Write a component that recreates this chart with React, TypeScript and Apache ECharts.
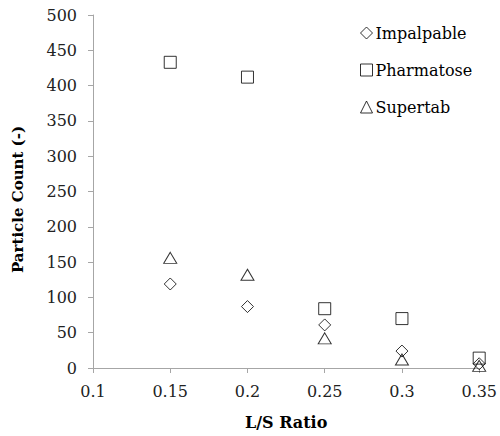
import React, { useEffect, useRef } from "react";
import * as echarts from "echarts";

const xValues = [0.15, 0.2, 0.25, 0.3, 0.35];
const impalpable = [119, 87, 61, 24, 6];
const pharmatose = [433, 412, 84, 70, 14];
const supertab = [156, 132, 42, 12, 3];

const font = "DejaVu Serif";

export default function App() {
  const ref = useRef<HTMLDivElement>(null);
  useEffect(() => {
    if (!ref.current) return;
    const chart = echarts.init(ref.current, undefined, { renderer: "svg" });
    const mk = (name: string, ys: number[], symbol: string, size: any) => ({
      name,
      type: "scatter",
      symbol,
      symbolSize: size,
      data: xValues.map((x, i) => [x, ys[i]]),
      itemStyle: { color: "rgba(0,0,0,0)", borderColor: "#000", borderWidth: 1 },
    });
    chart.setOption({
      animation: false,
      textStyle: { fontFamily: font },
      grid: { left: 93, right: 18, top: 15, bottom: 68 },
      legend: {
        orient: "vertical",
        left: 355,
        top: 20,
        itemGap: 21,
        itemWidth: 12,
        itemHeight: 12,
        itemStyle: { borderWidth: 1 },
        textStyle: { fontFamily: font, fontSize: 16, color: "#000", padding: [0, 0, 0, -2] },
        data: ["Impalpable", "Pharmatose", "Supertab"],
      },
      xAxis: {
        type: "value",
        min: 0.1,
        max: 0.35,
        interval: 0.05,
        name: "L/S Ratio",
        nameLocation: "middle",
        nameGap: 46,
        nameTextStyle: { fontFamily: font, fontSize: 16, fontWeight: "bold", color: "#000" },
        axisLine: { lineStyle: { color: "#a6a6a6" } },
        axisTick: { show: true, length: 5, lineStyle: { color: "#a6a6a6" } },
        axisLabel: { fontFamily: font, fontSize: 16, color: "#222", margin: 15 },
        splitLine: { show: false },
      },
      yAxis: {
        type: "value",
        min: 0,
        max: 500,
        interval: 50,
        name: "Particle Count (-)",
        nameLocation: "middle",
        nameGap: 68,
        nameTextStyle: {
          fontFamily: font,
          fontSize: 15,
          fontWeight: "bold",
          color: "#000",
          padding: [0, 16, 0, 0],
        },
        axisLine: { show: true, lineStyle: { color: "#a6a6a6" } },
        axisTick: { show: true, length: 5, lineStyle: { color: "#a6a6a6" } },
        axisLabel: { fontFamily: font, fontSize: 16, color: "#222", margin: 16 },
        splitLine: { show: false },
      },
      series: [
        mk("Impalpable", impalpable, "diamond", [12, 12]),
        mk("Pharmatose", pharmatose, "rect", [12, 12]),
        mk("Supertab", supertab, "triangle", [13, 11]),
      ],
    });
    return () => chart.dispose();
  }, []);
  return (
    <div
      ref={ref}
      style={{ position: "absolute", left: 0, top: 0, width: 500, height: 436 }}
    />
  );
}
